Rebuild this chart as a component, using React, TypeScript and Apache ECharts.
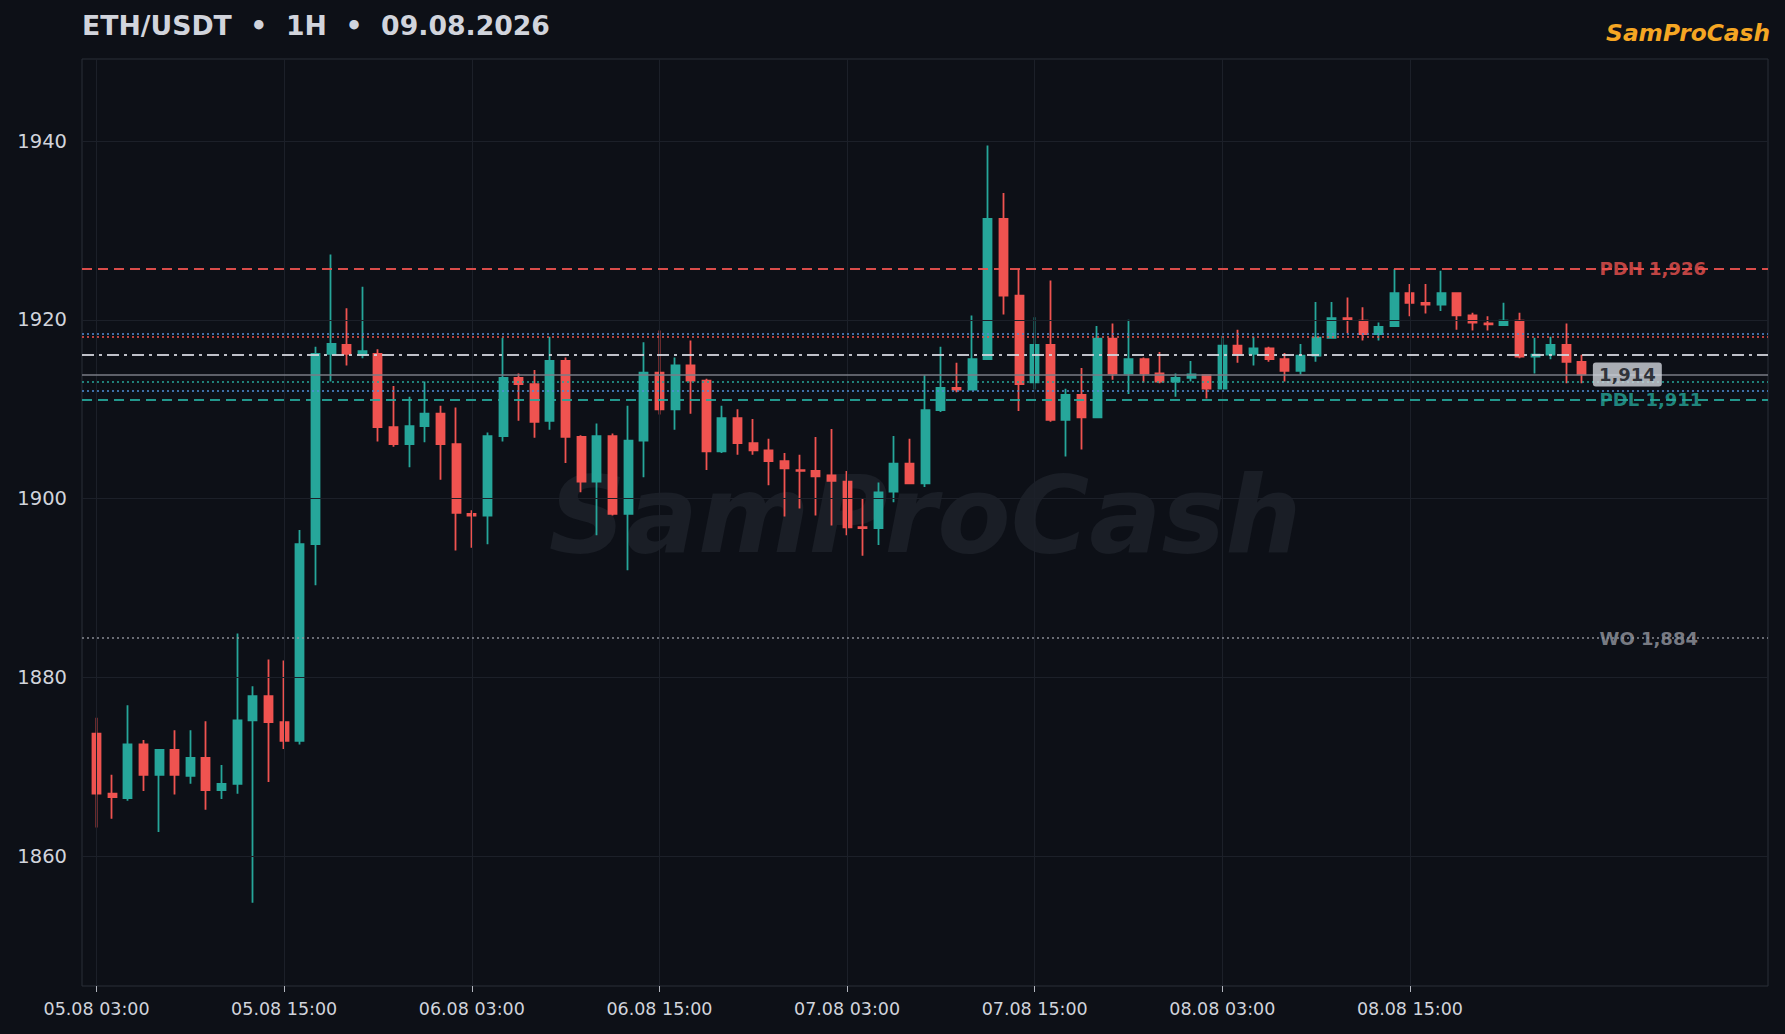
import React, { useEffect, useRef } from "react";
import * as echarts from "echarts";

// Hourly candles, 05.08 03:00 -> 09.08 02:00
const OPEN = [
  1873.7, 1867.0, 1866.5, 1872.5, 1869.1, 1871.9, 1869.0, 1871.0, 1867.4, 1868.1, 1875.2, 1877.9,
  1875.0, 1872.9, 1894.9, 1916.2, 1917.2, 1916.1, 1916.2, 1908.0, 1906.1, 1908.1, 1909.5, 1906.1,
  1898.3, 1898.1, 1907.0, 1913.5, 1912.8, 1908.7, 1915.4, 1906.9, 1901.9, 1907.0, 1898.3, 1906.5,
  1914.1, 1910.0, 1914.9, 1913.2, 1905.3, 1909.0, 1906.2, 1905.4, 1904.2, 1903.2, 1903.1, 1902.6,
  1901.9, 1896.8, 1896.7, 1900.8, 1903.9, 1901.7, 1909.9, 1912.4, 1912.2, 1915.6, 1931.3, 1922.7,
  1913.0, 1917.2, 1908.8, 1911.6, 1909.1, 1917.9, 1914.0, 1915.6, 1914.0, 1913.1, 1913.5, 1913.8,
  1912.3, 1917.1, 1916.2, 1916.8, 1915.6, 1914.3, 1916.0, 1918.0, 1920.2, 1919.9, 1918.4, 1919.3,
  1923.0, 1921.9, 1921.7, 1923.0, 1920.5, 1919.6, 1919.4, 1919.9, 1915.9, 1916.1, 1917.2, 1915.3,
];
const CLOSE = [
  1867.0, 1866.6, 1872.5, 1869.1, 1871.9, 1869.1, 1871.0, 1867.4, 1868.1, 1875.2, 1877.9, 1875.0,
  1872.9, 1894.9, 1916.2, 1917.3, 1916.2, 1916.5, 1908.0, 1906.1, 1908.1, 1909.5, 1906.1, 1898.4,
  1898.1, 1907.0, 1913.5, 1912.8, 1908.6, 1915.4, 1906.9, 1901.9, 1907.0, 1898.3, 1906.5, 1914.1,
  1910.0, 1914.9, 1913.2, 1905.3, 1909.0, 1906.2, 1905.4, 1904.2, 1903.4, 1903.1, 1902.5, 1902.0,
  1896.8, 1896.7, 1900.7, 1903.9, 1901.7, 1909.9, 1912.4, 1912.2, 1915.6, 1931.3, 1922.7, 1912.8,
  1917.2, 1908.8, 1911.6, 1909.1, 1917.9, 1914.0, 1915.6, 1914.0, 1913.1, 1913.5, 1913.9, 1912.3,
  1917.1, 1916.2, 1916.8, 1915.6, 1914.3, 1916.0, 1918.0, 1920.2, 1920.0, 1918.4, 1919.2, 1923.0,
  1921.9, 1921.7, 1923.0, 1920.5, 1919.7, 1919.5, 1919.9, 1915.9, 1916.1, 1917.2, 1915.3, 1913.9,
];
const LOW = [
  1863.2, 1864.2, 1866.2, 1867.3, 1862.7, 1866.9, 1868.1, 1865.2, 1866.4, 1867.0, 1854.8, 1868.3,
  1872.0, 1872.5, 1890.3, 1913.1, 1914.9, 1915.7, 1906.4, 1905.8, 1903.5, 1906.3, 1902.1, 1894.2,
  1894.5, 1894.9, 1906.4, 1908.7, 1906.8, 1907.7, 1904.0, 1900.7, 1895.9, 1898.1, 1892.0, 1902.4,
  1909.4, 1907.7, 1909.5, 1903.2, 1905.1, 1904.9, 1904.9, 1901.5, 1898.0, 1898.9, 1898.1, 1897.0,
  1895.9, 1893.6, 1894.8, 1899.6, 1901.6, 1901.3, 1909.7, 1911.9, 1912.1, 1915.5, 1920.6, 1909.8,
  1912.2, 1908.6, 1904.7, 1905.5, 1909.0, 1913.3, 1911.7, 1913.0, 1912.9, 1911.4, 1913.1, 1911.2,
  1912.2, 1915.2, 1914.9, 1915.3, 1913.1, 1913.9, 1915.3, 1917.9, 1918.5, 1917.7, 1917.7, 1919.2,
  1920.4, 1920.7, 1921.0, 1918.9, 1918.8, 1918.8, 1919.4, 1915.7, 1914.0, 1915.6, 1912.9, 1912.9,
];
const HIGH = [
  1875.5, 1869.1, 1876.9, 1873.0, 1872.0, 1874.1, 1874.1, 1875.1, 1870.2, 1884.9, 1879.0, 1882.0,
  1881.9, 1896.5, 1917.0, 1927.3, 1921.3, 1923.7, 1916.7, 1912.6, 1911.4, 1913.1, 1910.4, 1910.2,
  1898.7, 1907.4, 1918.0, 1914.0, 1914.4, 1918.1, 1915.8, 1907.1, 1908.4, 1907.3, 1910.4, 1917.5,
  1918.8, 1915.8, 1917.7, 1913.4, 1910.4, 1910.0, 1908.9, 1906.7, 1905.1, 1904.9, 1906.9, 1907.8,
  1903.1, 1900.0, 1901.8, 1907.0, 1906.7, 1913.8, 1917.0, 1915.2, 1920.5, 1939.5, 1934.2, 1925.7,
  1920.3, 1924.4, 1912.3, 1914.6, 1919.3, 1919.6, 1920.0, 1915.8, 1916.4, 1914.0, 1915.4, 1913.9,
  1918.2, 1918.9, 1918.1, 1917.0, 1916.3, 1917.3, 1922.0, 1922.0, 1922.5, 1921.4, 1919.7, 1925.7,
  1924.0, 1924.0, 1925.5, 1923.0, 1920.8, 1920.4, 1921.9, 1920.8, 1918.0, 1918.1, 1919.6, 1916.1,
];

const X_TICKS = [0, 12, 24, 36, 48, 60, 72, 84];
const X_TICK_LABELS = [
  "05.08 03:00", "05.08 15:00", "06.08 03:00", "06.08 15:00",
  "07.08 03:00", "07.08 15:00", "08.08 03:00", "08.08 15:00",
];
const Y_TICKS = [1860, 1880, 1900, 1920, 1940];

// key levels
const LEVEL_NAMES = ["PDH", "PDL", "WO"];
const LEVEL_VALUES = [1925.7, 1911.1, 1884.4];
const PIVOT_LEVEL = 1916.1;
const UPPER_BAND = [1918.45, 1918.1]; // blue, red dotted
const LOWER_BAND = [1913.1, 1912.1]; // teal, blue dotted

const UP = "#26a69a";
const DOWN = "#ef5350";
const BLUE = "#4f8fd8";
const BG = "#0d1017";
const TXT = "#d1d4dc";
const FONT = "DejaVu Sans";

export default function App() {
  const ref = useRef<HTMLDivElement>(null);
  useEffect(() => {
    const chart = echarts.init(ref.current!, null, { renderer: "svg" });
    const candles = OPEN.map((o, i) => [i, o, CLOSE[i], LOW[i], HIGH[i]]);
    const last = CLOSE[CLOSE.length - 1];
    const labelX = CLOSE.length;
    const fmt = (v: number) => Math.round(v).toLocaleString("en-US");
    const levelColors = [DOWN, UP, "#9598a1"];
    const levelTypes: any[] = [[10, 6], [10, 6], [2, 3]];

    const option: any = {
      animation: false,
      backgroundColor: BG,
      grid: {
        left: 82, right: 17, top: 59, bottom: 48,
        show: true, borderColor: "#2a2e39", borderWidth: 1, backgroundColor: "transparent",
      },
      xAxis: {
        type: "value", min: -0.93, max: 106.9,
        splitLine: { show: false },
        axisLine: { show: false },
        axisTick: { show: true, customValues: X_TICKS, length: 6, lineStyle: { color: "#b2b5be" } },
        axisLabel: {
          customValues: X_TICKS, color: TXT, fontSize: 17.5, fontFamily: FONT, margin: 14,
          formatter: (v: number) => X_TICK_LABELS[X_TICKS.indexOf(Math.round(v))] ?? "",
        },
      },
      yAxis: {
        type: "value", min: 1845.48, max: 1949.18, scale: true,
        splitLine: { show: false },
        axisLine: { show: false },
        axisTick: { show: true, customValues: Y_TICKS, length: 6, lineStyle: { color: "#b2b5be" } },
        axisLabel: {
          customValues: Y_TICKS, color: TXT, fontSize: 19.5, fontFamily: FONT, margin: 15,
          formatter: (v: number) => String(Math.round(v)),
        },
      },
      graphic: [
        {
          type: "text", left: 82, top: 12, z: 10,
          style: { text: "ETH/USDT  •  1H  •  09.08.2026", fill: TXT, font: `bold 26.7px '${FONT}'` },
        },
        {
          type: "text", right: 15, top: 21, z: 10,
          style: { text: "SamProCash", fill: "#f5a623", font: `italic bold 23.3px '${FONT}'` },
        },
        {
          type: "text", x: 925, y: 515, z: 0,
          style: {
            text: "SamProCash", fill: "#1a1e26", font: `italic bold 107px '${FONT}'`,
            align: "center", verticalAlign: "middle",
          },
        },
      ],
      series: [
        {
          type: "line", data: [], z: 1, silent: true,
          markLine: {
            silent: true, symbol: ["none", "none"], label: { show: false },
            lineStyle: { color: "#1c2029", type: "solid", width: 1 },
            data: [
              ...X_TICKS.map((x) => ({ xAxis: x })),
              ...Y_TICKS.map((y) => ({ yAxis: y })),
            ],
          },
        },
        {
          type: "candlestick", z: 2,
          data: candles,
          encode: { x: 0, y: [1, 2, 3, 4] },
          barWidth: 8.5,
          itemStyle: {
            color: UP, color0: DOWN, borderColor: UP, borderColor0: DOWN, borderWidth: 1.8,
          },
        },
        {
          type: "scatter", z: 3, symbolSize: 0, silent: true,
          data: LEVEL_VALUES.map((v) => [labelX, v]),
          label: {
            show: true, position: "right", distance: 2, fontFamily: FONT, fontWeight: "bold", fontSize: 18,
            formatter: (p: any) => `${LEVEL_NAMES[p.dataIndex]} ${fmt(p.value[1])}`,
            color: "inherit",
          },
          itemStyle: { color: (p: any) => levelColors[p.dataIndex] },
        },
        {
          type: "line", data: [], z: 4, silent: true,
          markLine: {
            silent: true, symbol: ["none", "none"], label: { show: false },
            data: [
              ...LEVEL_VALUES.map((v, i) => ({
                yAxis: v, lineStyle: { color: levelColors[i], type: levelTypes[i], width: i < 2 ? 2 : 1.6, opacity: 0.9 },
              })),
              { yAxis: PIVOT_LEVEL, lineStyle: { color: TXT, type: [12, 5, 3, 5], width: 1.8, opacity: 0.9 } },
              { yAxis: UPPER_BAND[0], lineStyle: { color: BLUE, type: [2, 3], width: 1.6 } },
              { yAxis: UPPER_BAND[1], lineStyle: { color: DOWN, type: [2, 3], width: 1.6 } },
              { yAxis: LOWER_BAND[0], lineStyle: { color: UP, type: [2, 3], width: 1.6 } },
              { yAxis: LOWER_BAND[1], lineStyle: { color: BLUE, type: [2, 3], width: 1.6 } },
              { yAxis: last, lineStyle: { color: "#787b86", type: "solid", width: 1.5 } },
            ],
          },
        },
        {
          type: "scatter", z: 5, symbolSize: 0, silent: true,
          data: [[labelX - 0.3, last]],
          label: {
            show: true, position: "right", distance: 0, fontFamily: FONT, fontWeight: "bold", fontSize: 18,
            color: "#0d1017", backgroundColor: TXT, padding: [3, 6, 3, 6], borderRadius: 3,
            formatter: (p: any) => fmt(p.value[1]),
          },
        },
      ],
    };
    chart.setOption(option);
    return () => chart.dispose();
  }, []);
  return <div ref={ref} style={{ position: "fixed", left: 0, top: 0, width: 1785, height: 1034 }} />;
}
